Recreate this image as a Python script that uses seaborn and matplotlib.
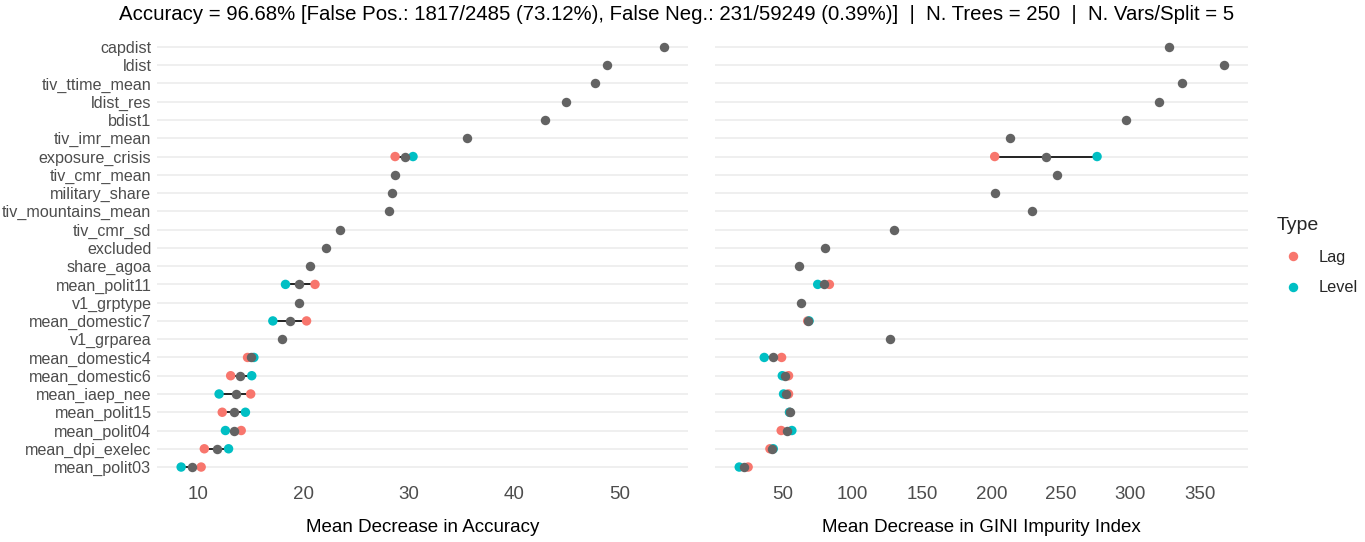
import numpy as np
import pandas as pd
import matplotlib
matplotlib.use("Agg")
import matplotlib.pyplot as plt
import seaborn as sns
from matplotlib.lines import Line2D

variables = ["capdist", "ldist", "tiv_ttime_mean", "ldist_res", "bdist1", "tiv_imr_mean",
             "exposure_crisis", "tiv_cmr_mean", "military_share", "tiv_mountains_mean",
             "tiv_cmr_sd", "excluded", "share_agoa", "mean_polit11", "v1_grptype",
             "mean_domestic7", "v1_grparea", "mean_domestic4", "mean_domestic6",
             "mean_iaep_nee", "mean_polit15", "mean_polit04", "mean_dpi_exelec", "mean_polit03"]

acc_all = [54.2, 48.8, 47.7, 44.9, 42.9, 35.5, 29.6, 28.7, 28.4, 28.1, 23.5, 22.1,
           20.6, 19.6, 19.6, 18.7, 18.0, 15.0, 14.0, 13.6, 13.4, 13.4, 11.8, 9.4]
acc_lag = [None, None, None, None, None, None, 28.7, None, None, None, None, None,
           None, 21.1, None, 20.3, None, 14.7, 13.1, 15.0, 12.3, 14.1, 10.6, 10.3]
acc_level = [None, None, None, None, None, None, 30.4, None, None, None, None, None,
             None, 18.3, None, 17.1, None, 15.3, 15.1, 12.0, 14.5, 12.6, 12.9, 8.4]

gini_all = [327.9, 367.3, 337.5, 320.7, 296.7, 213.1, 239.3, 247.3, 202.9, 229.5, 129.8, 80.5,
            61.6, 79.2, 63.1, 68.3, 127.0, 42.8, 51.4, 52.2, 54.7, 52.7, 41.8, 21.7]
gini_lag = [None, None, None, None, None, None, 202.4, None, None, None, None, None,
            None, 83.4, None, 67.8, None, 49.0, 54.0, 54.0, 54.7, 48.7, 40.6, 24.9]
gini_level = [None, None, None, None, None, None, 276.1, None, None, None, None, None,
              None, 75.0, None, 68.8, None, 36.5, 49.5, 50.4, 54.7, 56.4, 43.0, 18.5]

title = ("Accuracy = 96.68% [False Pos.: 1817/2485 (73.12%), False Neg.: 231/59249 (0.39%)]"
         "  |  N. Trees = 250  |  N. Vars/Split = 5")
xlabels = ["Mean Decrease in Accuracy", "Mean Decrease in GINI Impurity Index"]
xticks = [[10, 20, 30, 40, 50], [50, 100, 150, 200, 250, 300, 350]]

LAG_C = "#F8766D"
LEVEL_C = "#00BFC4"
GREY_C = "#636363"

sns.set_theme(style="white")
plt.rcParams["font.family"] = ["Liberation Sans", "DejaVu Sans"]

fig = plt.figure(figsize=(13.65, 5.42), dpi=100)
ax1 = fig.add_axes([157 / 1365, 1 - 478 / 542, 531 / 1365, 442 / 542])
ax2 = fig.add_axes([715 / 1365, 1 - 478 / 542, 533 / 1365, 442 / 542])

def panel(ax, allv, lagv, levv, ticks, xlabel, show_y):
    df_pair = pd.DataFrame({
        "var": variables * 2,
        "value": list(lagv) + list(levv),
        "Type": ["Lag"] * len(variables) + ["Level"] * len(variables),
    }).dropna()
    df_all = pd.DataFrame({"var": variables, "value": allv})
    for v in variables:
        ax.axhline(variables.index(v), color="#EBEBEB", lw=1.1, zorder=0)
    for v, a, b in zip(variables, lagv, levv):
        if a is not None and b is not None:
            ax.hlines(variables.index(v), min(a, b), max(a, b), color="black", lw=1.2, zorder=1)
    sns.stripplot(data=df_pair, x="value", y="var", hue="Type", order=variables,
                  palette={"Lag": LAG_C, "Level": LEVEL_C}, jitter=False, size=6.8,
                  linewidth=0, ax=ax, legend=False, zorder=2)
    sns.stripplot(data=df_all, x="value", y="var", order=variables, color=GREY_C,
                  jitter=False, size=6.8, linewidth=0, ax=ax, zorder=3)
    allvals = list(allv) + [x for x in lagv if x is not None] + [x for x in levv if x is not None]
    lo, hi = min(allvals), max(allvals)
    pad = (hi - lo) * 0.05
    ax.set_xlim(lo - pad, hi + pad)
    ax.set_ylim(len(variables) - 1 + 0.6, -0.6)
    ax.set_xticks(ticks)
    ax.set_xticklabels([str(t) for t in ticks])
    ax.set_xlabel(xlabel, fontsize=13.5, color="black", labelpad=11)
    ax.set_ylabel("")
    ax.tick_params(axis="x", labelsize=13.5, colors="#4D4D4D", length=0, pad=6)
    ax.tick_params(axis="y", labelsize=11.6, colors="#4D4D4D", length=0, pad=4)
    if not show_y:
        ax.set_yticklabels([])
    for s in ax.spines.values():
        s.set_visible(False)
    ax.grid(False)

panel(ax1, acc_all, acc_lag, acc_level, xticks[0], xlabels[0], True)
panel(ax2, gini_all, gini_lag, gini_level, xticks[1], xlabels[1], False)

fig.text(677 / 1365, 1 - 15 / 542, title, ha="center", va="center", fontsize=14.7, color="black")

handles = [Line2D([0], [0], marker="o", linestyle="", markersize=6.8, markerfacecolor=LAG_C,
                  markeredgewidth=0, label="Lag"),
           Line2D([0], [0], marker="o", linestyle="", markersize=6.8, markerfacecolor=LEVEL_C,
                  markeredgewidth=0, label="Level")]
leg = fig.legend(handles=handles, title="Type", loc="upper left",
                 bbox_to_anchor=(1270 / 1365, 1 - 211 / 542), frameon=False,
                 fontsize=11.7, title_fontsize=14, handletextpad=0.6, labelspacing=0.95,
                 alignment="left", borderaxespad=0)

fig.savefig("out.png", dpi=100)
